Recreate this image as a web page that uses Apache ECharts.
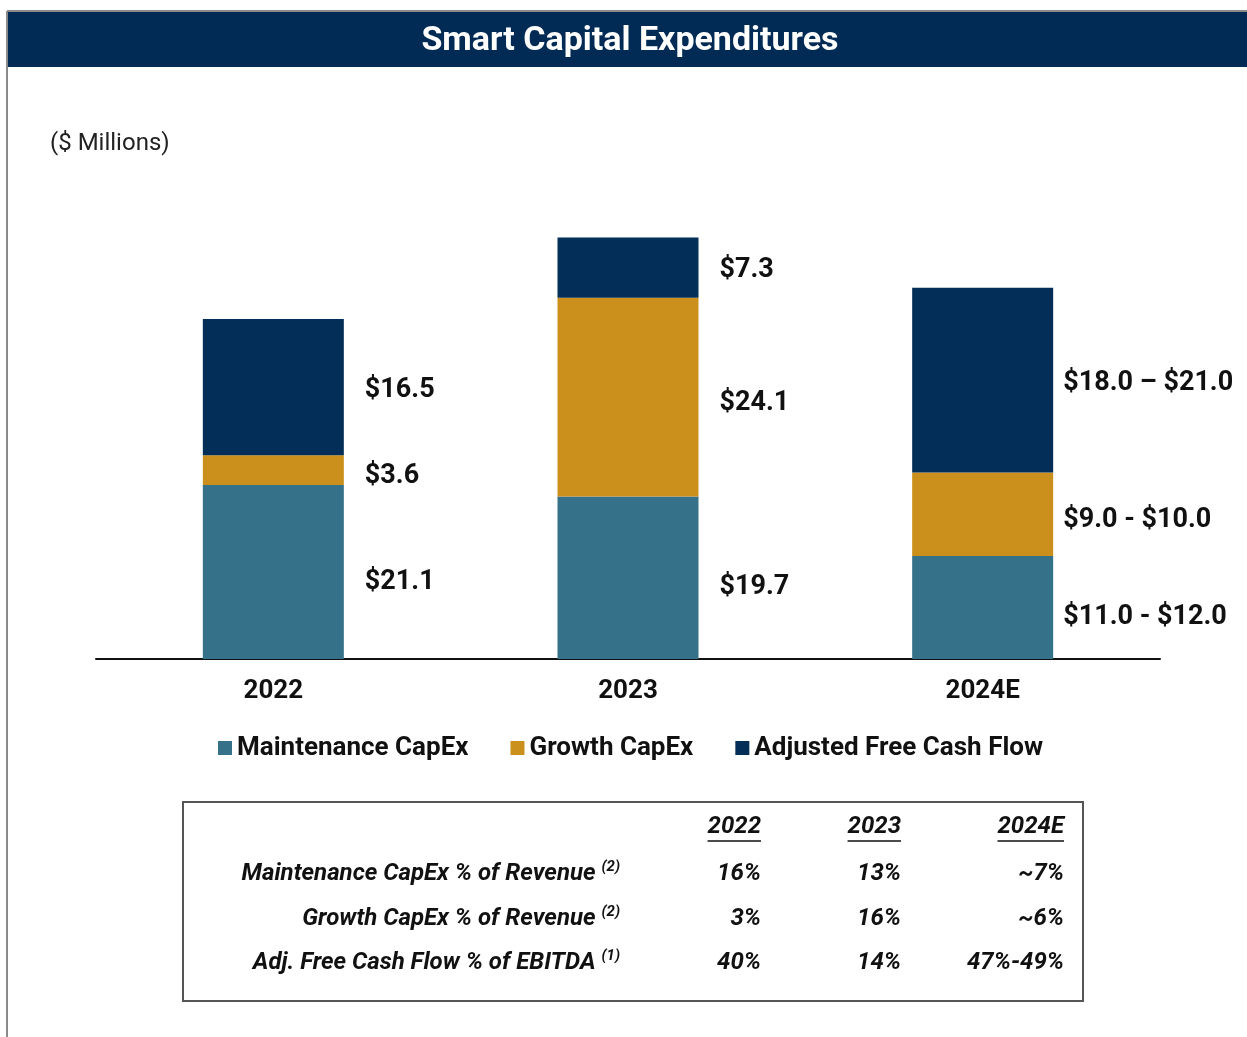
<!DOCTYPE html>
<html lang="en">
<head>
    <meta charset="UTF-8">
    <title>Smart Capital Expenditures</title>
    <script src="https://cdn.jsdelivr.net/npm/echarts@6/dist/echarts.min.js"></script>
    <style>
        html, body { margin: 0; padding: 0; background: #fff; }
        #main { width: 1247px; height: 1037px; }
    </style>
</head>
<body>
<div id="main"></div>
<script>
    // chart data
    var categories = ['2022', '2023', '2024E'];
    var maintenance = [21.1, 19.7, 12.5];
    var growth = [3.6, 24.1, 10.1];
    var freeCashFlow = [16.5, 7.3, 22.4];
    var maintenanceLabels = ['$21.1', '$19.7', '$11.0 - $12.0'];
    var growthLabels = ['$3.6', '$24.1', '$9.0 - $10.0'];
    var fcfLabels = ['$16.5', '$7.3', '$18.0 \u2013 $21.0'];

    // table under the chart
    var tableColumns = ['2022', '2023', '2024E'];
    var tableRows = ['Maintenance CapEx % of Revenue', 'Growth CapEx % of Revenue', 'Adj. Free Cash Flow % of EBITDA'];
    var tableNotes = ['(2)', '(2)', '(1)'];
    var tableValues = [
        ['16%', '13%', '~7%'],
        ['3%', '16%', '~6%'],
        ['40%', '14%', '47%-49%']
    ];

    var FONT = 'Roboto, "Noto Sans", sans-serif';
    var TEAL = '#35728a', GOLD = '#cb901b', NAVY = '#032e57';

    function makeData(values, labels) {
        return values.map(function (v, i) {
            return {
                value: v,
                label: { formatter: labels[i], distance: i === 2 ? 10 : 21 }
            };
        });
    }

    function barSeries(name, color, values, labels, dy) {
        return {
            name: name,
            type: 'bar',
            stack: 'total',
            barWidth: 141,
            itemStyle: { color: color },
            label: {
                show: true,
                position: 'right',
                offset: [0, dy],
                color: '#111',
                fontFamily: FONT,
                fontWeight: 'bold',
                fontSize: 27
            },
            data: makeData(values, labels)
        };
    }

    // measure text for underlines in table header
    var ctx = document.createElement('canvas').getContext('2d');
    var tableFont = 'italic bold 24px Roboto';
    ctx.font = tableFont;

    var colRight = [761, 901, 1064];
    var rowY = [874, 919, 963];
    var graphics = [
        // frame lines
        { type: 'line', shape: { x1: 7, y1: 11, x2: 7, y2: 1037 }, style: { stroke: '#8a8a8a', lineWidth: 2 } },
        { type: 'line', shape: { x1: 7, y1: 11, x2: 1247, y2: 11 }, style: { stroke: '#8a8a8a', lineWidth: 2 } },
        // title banner
        { type: 'rect', shape: { x: 8, y: 12, width: 1239, height: 55 }, style: { fill: '#012b54' } },
        {
            type: 'text',
            style: {
                x: 630, y: 41, text: 'Smart Capital Expenditures',
                fill: '#fff', font: 'bold 34px ' + FONT, align: 'center', verticalAlign: 'middle'
            }
        },
        {
            type: 'text',
            style: {
                x: 50, y: 144, text: '($ Millions)',
                fill: '#222', font: '24px ' + FONT, align: 'left', verticalAlign: 'middle'
            }
        },
        // table box
        {
            type: 'rect', shape: { x: 183, y: 802, width: 900, height: 199 },
            style: { fill: 'none', stroke: '#555', lineWidth: 2 }
        }
    ];

    tableColumns.forEach(function (c, j) {
        var w = ctx.measureText(c).width;
        graphics.push({
            type: 'text',
            style: { x: colRight[j], y: 827, text: c, fill: '#111', font: tableFont, align: 'right', verticalAlign: 'middle' }
        });
        graphics.push({
            type: 'line',
            shape: { x1: colRight[j] - w, y1: 841, x2: colRight[j], y2: 841 },
            style: { stroke: '#111', lineWidth: 1.5 }
        });
    });

    tableRows.forEach(function (r, i) {
        graphics.push({
            type: 'text',
            style: {
                x: 620, y: rowY[i],
                text: '{a|' + r + ' }{s|' + tableNotes[i] + '}',
                align: 'right', verticalAlign: 'middle',
                rich: {
                    a: { font: tableFont, fill: '#111', lineHeight: 28 },
                    s: { font: 'italic bold 15px Roboto', fill: '#111', verticalAlign: 'top', lineHeight: 28 }
                }
            }
        });
        tableValues[i].forEach(function (v, j) {
            graphics.push({
                type: 'text',
                style: { x: colRight[j], y: rowY[i], text: v, fill: '#111', font: tableFont, align: 'right', verticalAlign: 'middle' }
            });
        });
    });

    var option = {
        backgroundColor: '#fff',
        animation: false,
        grid: { left: 96, right: 87, top: 164, bottom: 378 },
        legend: {
            left: 213,
            top: 730,
            icon: 'rect',
            itemWidth: 14,
            itemHeight: 14,
            itemGap: 42,
            textStyle: { fontFamily: FONT, fontWeight: 'bold', fontSize: 26, color: '#111' },
            data: ['Maintenance CapEx', 'Growth CapEx', 'Adjusted Free Cash Flow']
        },
        xAxis: {
            type: 'category',
            data: categories,
            axisLine: { lineStyle: { color: '#111', width: 2 } },
            axisTick: { show: false },
            axisLabel: { margin: 19, color: '#111', fontFamily: FONT, fontWeight: 'bold', fontSize: 26 }
        },
        yAxis: {
            type: 'value',
            min: 0,
            max: 60,
            show: false
        },
        series: [
            barSeries('Maintenance CapEx', TEAL, maintenance, maintenanceLabels, 10),
            barSeries('Growth CapEx', GOLD, growth, growthLabels, 6),
            barSeries('Adjusted Free Cash Flow', NAVY, freeCashFlow, fcfLabels, 3)
        ],
        graphic: graphics
    };

    var myChart = echarts.init(document.getElementById('main'));
    myChart.setOption(option);
</script>
</body>
</html>
